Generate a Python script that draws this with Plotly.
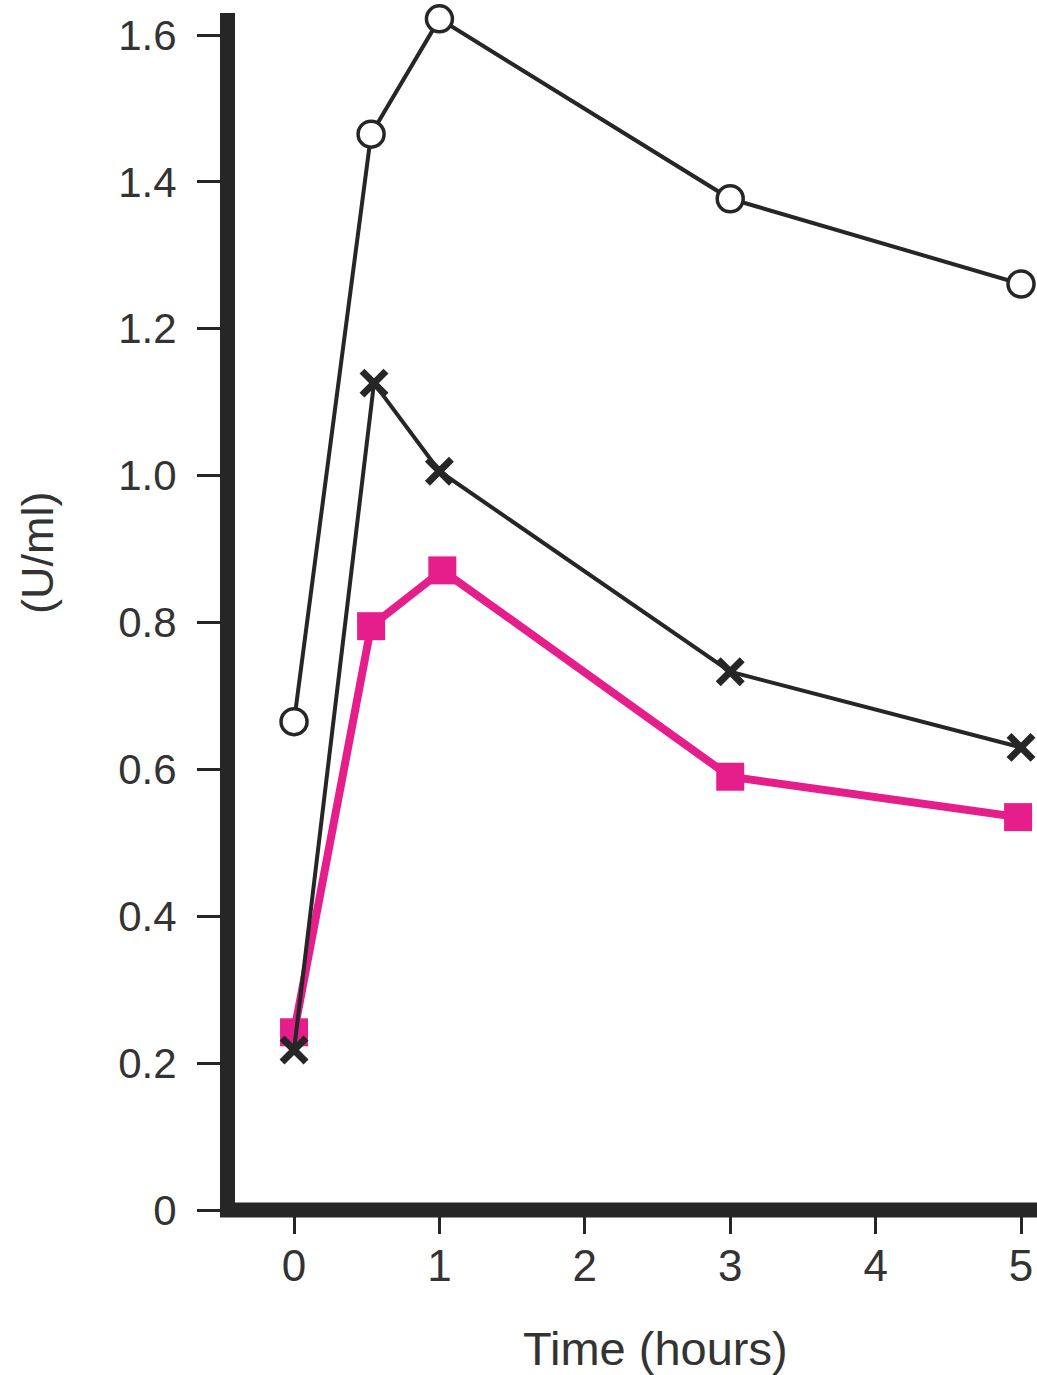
import plotly.graph_objects as go

# Data
time_circle = [0, 0.53, 1, 3, 5]
val_circle = [0.665, 1.465, 1.622, 1.377, 1.261]

time_x = [0, 0.55, 1, 3, 5]
val_x = [0.218, 1.126, 1.006, 0.733, 0.630]

time_sq = [0, 0.53, 1.02, 3, 4.98]
val_sq = [0.242, 0.795, 0.871, 0.590, 0.535]

y_tickvals = [0, 0.2, 0.4, 0.6, 0.8, 1.0, 1.2, 1.4, 1.6]
y_ticktext = ["0", "0.2", "0.4", "0.6", "0.8", "1.0", "1.2", "1.4", "1.6"]
x_tickvals = [0, 1, 2, 3, 4, 5]
x_ticktext = ["0", "1", "2", "3", "4", "5"]

INK = "#262626"
TXT = "#333333"
PINK = "#E61E8C"
FONT = "Liberation Sans, Arial, Helvetica, sans-serif"

fig = go.Figure()

fig.add_trace(go.Scatter(
    x=time_sq, y=val_sq, mode="lines+markers",
    line=dict(color=PINK, width=8),
    marker=dict(symbol="square", size=28, color=PINK),
    cliponaxis=False, showlegend=False,
))
fig.add_trace(go.Scatter(
    x=time_x, y=val_x, mode="lines+markers",
    line=dict(color=INK, width=4),
    marker=dict(symbol="x-thin", size=24, line=dict(color=INK, width=7)),
    cliponaxis=False, showlegend=False,
))
fig.add_trace(go.Scatter(
    x=time_circle, y=val_circle, mode="lines+markers",
    line=dict(color=INK, width=4),
    marker=dict(symbol="circle", size=26, color="white", line=dict(color=INK, width=3.5)),
    cliponaxis=False, showlegend=False,
))

fig.update_layout(
    width=1037, height=1375,
    margin=dict(l=235, r=0, t=13, b=165),
    plot_bgcolor="white", paper_bgcolor="white",
    font=dict(family=FONT, color=TXT),
    showlegend=False,
    shapes=[
        # thick baseline along the bottom of the plot (the x axis line)
        dict(type="line", xref="paper", yref="paper", x0=-0.0187, x1=1, y0=0, y1=0,
             line=dict(color=INK, width=15), layer="above"),
    ],
    annotations=[
        dict(text="Time (hours)", xref="paper", yref="paper", x=0.5237, y=-0.1153,
             xanchor="center", yanchor="middle", showarrow=False,
             font=dict(size=47, color=TXT, family=FONT)),
        dict(text="(U/ml)", xref="paper", yref="paper", x=-0.2456, y=0.549,
             xanchor="center", yanchor="middle", showarrow=False, textangle=-90,
             font=dict(size=45, color=TXT, family=FONT)),
    ],
)

fig.update_xaxes(
    range=[-0.406, 5.11], showgrid=False, zeroline=False,
    showline=False,
    ticks="outside", ticklen=23, tickwidth=3, tickcolor=INK,
    tickvals=x_tickvals, ticktext=x_ticktext,
    tickfont=dict(size=44, color=TXT, family=FONT),
    ticklabelstandoff=-6,
)
fig.update_yaxes(
    range=[0, 1.630], showgrid=False, zeroline=False,
    showline=True, linecolor=INK, linewidth=15,
    ticks="outside", ticklen=23, tickwidth=3, tickcolor=INK,
    tickvals=y_tickvals, ticktext=y_ticktext,
    tickfont=dict(size=42, color=TXT, family=FONT),
    ticklabelstandoff=12,
)

fig.write_html("out.html", config={"displayModeBar": False},
               post_script="document.body.style.margin='0';")
